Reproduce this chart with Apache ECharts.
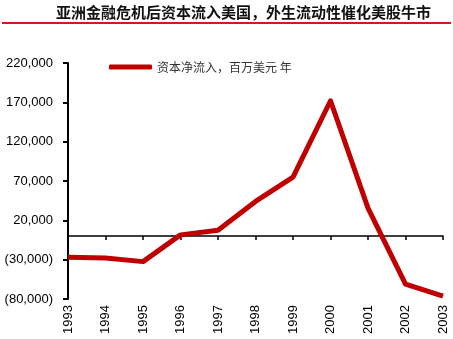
<!DOCTYPE html>
<html>
<head>
<meta charset="utf-8">
<script src="https://cdn.jsdelivr.net/npm/echarts@6/dist/echarts.min.js"></script>
<style>
  html, body { margin: 0; padding: 0; background: #fff; }
  #chart { width: 453px; height: 339px; }
</style>
</head>
<body>
<div id="chart"></div>
<script>
// Net capital inflow into the US, millions of USD per year
var years = ['1993', '1994', '1995', '1996', '1997', '1998', '1999', '2000', '2001', '2002', '2003'];
var netInflow = [-27000, -28000, -32500, 1500, 7500, 44000, 75000, 172000, 35500, -61000, -76500];
var seriesName = '资本净流入，百万美元 年';
var titleText = '亚洲金融危机后资本流入美国，外生流动性催化美股牛市';

var yMin = -80000, yMax = 220000, yStep = 50000;

function fmtNumber(v) {
  var s = Math.abs(v).toString().replace(/\B(?=(\d{3})+(?!\d))/g, ',');
  return v < 0 ? '(' + s + ')' : s;
}

var chart = echarts.init(document.getElementById('chart'), null, { renderer: 'canvas' });

chart.setOption({
  animation: false,
  backgroundColor: '#ffffff',
  title: {
    text: titleText,
    left: 51,
    top: 0,
    textStyle: {
      fontFamily: '"Noto Sans CJK SC"',
      fontSize: 15,
      fontWeight: 'bold',
      color: '#111'
    }
  },
  graphic: [{
    type: 'rect',
    shape: { x: 2, y: 22, width: 449, height: 2 },
    style: { fill: '#d21a1a' },
    silent: true
  }],
  legend: {
    left: 104,
    top: 56,
    icon: 'roundRect',
    itemWidth: 43,
    itemHeight: 5,
    itemGap: 4,
    textStyle: {
      fontFamily: '"Noto Sans CJK SC"',
      fontSize: 12,
      color: '#333'
    },
    data: [seriesName]
  },
  grid: {
    left: 68,
    right: 10,
    top: 63,
    bottom: 40,
    containLabel: false
  },
  xAxis: [{
    type: 'category',
    data: years,
    boundaryGap: false,
    axisLine: { show: true, onZero: true, lineStyle: { color: '#000', width: 1.5 } },
    axisTick: { show: true, length: 4, lineStyle: { color: '#000', width: 1.5 } },
    axisLabel: { show: false },
    splitLine: { show: false }
  }, {
    type: 'category',
    data: years,
    position: 'bottom',
    boundaryGap: false,
    axisLine: { show: false, onZero: false },
    axisTick: { show: false },
    axisLabel: {
      show: true,
      rotate: 90,
      margin: 6,
      interval: 0,
      fontFamily: '"Liberation Sans", Arial',
      fontSize: 13,
      color: '#000'
    },
    splitLine: { show: false }
  }],
  yAxis: {
    type: 'value',
    min: yMin,
    max: yMax,
    interval: yStep,
    axisLine: { show: true, lineStyle: { color: '#000', width: 2 } },
    axisTick: { show: true, length: 5, lineStyle: { color: '#000', width: 2 } },
    axisLabel: {
      margin: 15,
      fontFamily: '"Liberation Sans", Arial',
      fontSize: 13,
      color: '#000',
      formatter: fmtNumber
    },
    splitLine: { show: false }
  },
  series: [{
    name: seriesName,
    type: 'line',
    xAxisIndex: 0,
    data: netInflow,
    symbol: 'none',
    color: '#c00000',
    lineStyle: { color: '#c00000', width: 5, join: 'round' },
    z: 3
  }]
});
</script>
</body>
</html>
